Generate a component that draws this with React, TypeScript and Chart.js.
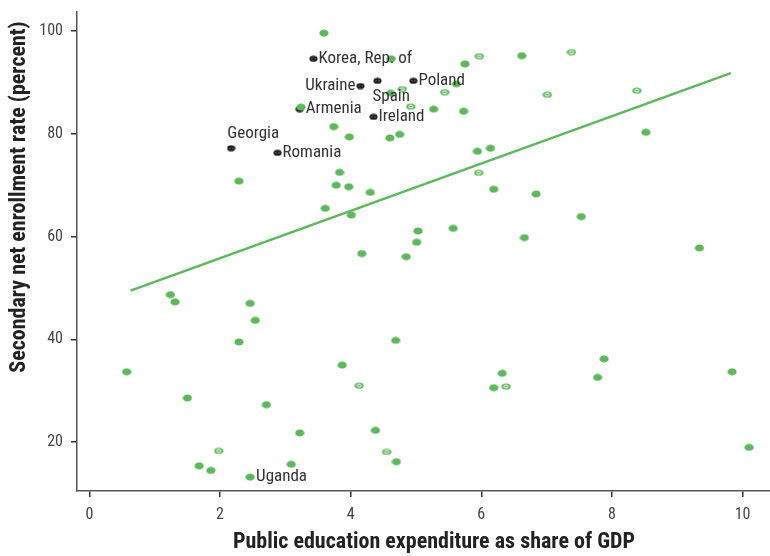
import React, { useEffect, useRef } from 'react';
import { Chart, registerables } from 'chart.js';

Chart.register(...registerables);

// Axis ticks
const xTicks = [0, 2, 4, 6, 8, 10];
const yTicks = [20, 40, 60, 80, 100];

// Countries without a label: public education spending (% of GDP) and secondary net enrollment (%)
const plainSpend = [
  3.59, 4.62, 4.61, 3.24, 3.74, 3.98, 4.60, 4.75, 2.29, 3.83, 3.78, 3.97, 4.30, 3.61,
  4.01, 5.03, 5.01, 6.62, 5.75, 5.62, 5.27, 5.73, 8.52, 5.94, 6.14, 6.19, 6.84, 7.53,
  5.57, 6.66, 9.34, 4.17, 4.85, 1.24, 1.31, 2.46, 2.54, 2.29, 4.69, 0.57, 3.87, 1.50,
  2.71, 3.22, 4.38, 1.68, 1.86, 3.09, 4.70, 7.88, 6.32, 6.19, 7.78, 9.84, 10.10,
];
const plainEnroll = [
  99.6, 94.6, 87.9, 85.2, 81.4, 79.4, 79.2, 79.9, 70.8, 72.5, 70.0, 69.7, 68.6, 65.5,
  64.2, 61.1, 58.9, 95.2, 93.6, 89.7, 84.8, 84.4, 80.3, 76.6, 77.2, 69.2, 68.3, 63.9,
  61.6, 59.8, 57.8, 56.7, 56.1, 48.7, 47.3, 47.0, 43.7, 39.5, 39.8, 33.7, 35.0, 28.6,
  27.3, 21.8, 22.3, 15.4, 14.5, 15.7, 16.2, 36.2, 33.4, 30.6, 32.6, 33.7, 19.0,
];

// Countries drawn with an open centre
const openSpend = [4.79, 4.92, 5.97, 7.38, 5.44, 7.01, 8.38, 5.96, 4.13, 1.98, 4.55, 6.38];
const openEnroll = [88.7, 85.3, 95.1, 95.9, 88.1, 87.6, 88.4, 72.4, 31.0, 18.3, 18.1, 30.8];

// Highlighted countries
const highlightNames = ['Korea, Rep. of', 'Ukraine', 'Spain', 'Poland', 'Armenia', 'Ireland', 'Georgia', 'Romania'];
const highlightSpend = [3.43, 4.15, 4.41, 4.96, 3.22, 4.35, 2.17, 2.88];
const highlightEnroll = [94.6, 89.3, 90.3, 90.3, 84.8, 83.3, 77.2, 76.3];

// Labelled country in the main group
const namedPlainNames = ['Uganda'];
const namedPlainSpend = [2.46];
const namedPlainEnroll = [13.2];

// Fitted line end points
const trendSpend = [0.63, 9.82];
const trendEnroll = [49.5, 91.8];

const GREEN = '#5cb85a';
const DARK = '#1e1e1e';
const NARROW = "'Liberation Sans Narrow', 'Roboto Condensed', 'DejaVu Sans Condensed', 'Arial Narrow', sans-serif";

// Label placement relative to each marker: [dx, dy, align]
const labelPlace: Record<string, [number, number, CanvasTextAlign]> = {
  'Korea, Rep. of': [5, 0, 'left'],
  Ukraine: [-5, 0, 'right'],
  Spain: [-5, 16, 'left'],
  Poland: [5, 0, 'left'],
  Armenia: [6, 0, 'left'],
  Ireland: [5, 0, 'left'],
  Georgia: [-4, -14, 'left'],
  Romania: [5, 0, 'left'],
  Uganda: [6, 0, 'left'],
};

function marker(w: number, h: number, fill: string, kind: 'solid' | 'open' | 'dark') {
  const c = document.createElement('canvas');
  c.width = w;
  c.height = h;
  const g = c.getContext('2d')!;
  g.fillStyle = fill;
  g.beginPath();
  g.ellipse(w / 2, h / 2, w / 2 - 0.4, h / 2 - 0.4, 0, 0, Math.PI * 2);
  g.fill();
  if (kind === 'open') {
    g.strokeStyle = '#ffffff';
    g.lineWidth = 1;
    g.beginPath();
    g.ellipse(w / 2, h / 2, 2.2, 1.4, 0, 0, Math.PI * 2);
    g.stroke();
  } else if (kind === 'dark') {
    g.fillStyle = '#9a9a9a';
    g.fillRect(w / 2 - 2, h / 2 - 0.5, 1, 1);
    g.fillRect(w / 2 + 1, h / 2 - 0.5, 1, 1);
  }
  return c;
}

const pts = (xs: number[], ys: number[]) => xs.map((x, i) => ({ x, y: ys[i] }));

const textPlugin = {
  id: 'textLayer',
  afterDatasetsDraw(chart: any) {
    const ctx: CanvasRenderingContext2D = chart.ctx;
    ctx.save();
    ctx.font = `17px ${NARROW}`;
    ctx.fillStyle = '#333333';
    ctx.textBaseline = 'middle';
    chart.data.datasets.forEach((ds: any, i: number) => {
      if (!ds.names) return;
      const meta = chart.getDatasetMeta(i);
      ds.names.forEach((name: string, j: number) => {
        const el = meta.data[j];
        const [dx, dy, align] = labelPlace[name] || [5, 0, 'left'];
        ctx.textAlign = align;
        ctx.fillText(name, el.x + dx, el.y + dy);
      });
    });
    ctx.restore();
  },
  afterDraw(chart: any) {
    const ctx: CanvasRenderingContext2D = chart.ctx;
    ctx.save();
    ctx.font = `bold 22px ${NARROW}`;
    ctx.fillStyle = '#222222';
    ctx.textAlign = 'center';
    ctx.textBaseline = 'alphabetic';
    ctx.fillText('Public education expenditure as share of GDP', 434, 548);
    ctx.translate(25, 197);
    ctx.rotate(-Math.PI / 2);
    ctx.fillText('Secondary net enrollment rate (percent)', 0, 0);
    ctx.restore();
  },
};

export default function App() {
  const ref = useRef<HTMLCanvasElement>(null);

  useEffect(() => {
    if (!ref.current) return;
    const solid = marker(10, 8, GREEN, 'solid');
    const open = marker(10, 7, GREEN, 'open');
    const dark = marker(9, 7, DARK, 'dark');

    const tickFont = { family: NARROW, size: 16 };

    const chart = new Chart(ref.current, {
      type: 'scatter',
      data: {
        datasets: [
          {
            label: 'labelled',
            data: pts(namedPlainSpend, namedPlainEnroll),
            pointStyle: solid,
            order: 1,
            names: namedPlainNames,
          } as any,
          {
            label: 'countries',
            data: pts(plainSpend, plainEnroll),
            pointStyle: solid,
            order: 2,
          } as any,
          {
            label: 'open',
            data: pts(openSpend, openEnroll),
            pointStyle: open,
            order: 3,
          } as any,
          {
            label: 'highlighted',
            data: pts(highlightSpend, highlightEnroll),
            pointStyle: dark,
            order: 4,
            names: highlightNames,
          } as any,
          {
            type: 'line',
            label: 'fit',
            data: pts(trendSpend, trendEnroll),
            borderColor: GREEN,
            borderWidth: 2.5,
            pointRadius: 0,
            showLine: true,
            fill: false,
            order: 5,
          } as any,
        ],
      },
      options: {
        animation: false,
        responsive: false,
        events: [],
        layout: { padding: 0, autoPadding: false },
        plugins: { legend: { display: false }, tooltip: { enabled: false } },
        scales: {
          x: {
            type: 'linear',
            min: -0.19,
            max: 10.42,
            afterBuildTicks: (s: any) => {
              s.ticks = xTicks.map((v) => ({ value: v }));
            },
            afterFit: (s: any) => {
              s.height = 65;
              s.paddingLeft = 0;
              s.paddingRight = 0;
            },
            grid: { drawOnChartArea: false, drawTicks: true, tickLength: 6, color: '#333', lineWidth: 1.5 },
            border: { display: true, color: '#555', width: 1.5 },
            ticks: { font: tickFont, color: '#444', padding: 8, maxRotation: 0 },
          },
          y: {
            type: 'linear',
            min: 10.5,
            max: 103.7,
            afterBuildTicks: (s: any) => {
              s.ticks = yTicks.map((v) => ({ value: v }));
            },
            afterFit: (s: any) => {
              s.width = 77;
              s.paddingTop = 12;
              s.paddingBottom = 0;
            },
            grid: { drawOnChartArea: false, drawTicks: true, tickLength: 6, color: '#333', lineWidth: 1.5 },
            border: { display: true, color: '#555', width: 1.5 },
            ticks: { font: tickFont, color: '#444', padding: 8 },
          },
        },
      },
      plugins: [textPlugin],
    });
    return () => chart.destroy();
  }, []);

  return (
    <div style={{ position: 'fixed', left: 0, top: 0, width: 770, height: 556, background: '#fff' }}>
      <canvas ref={ref} width={770} height={556} style={{ display: 'block' }} />
    </div>
  );
}
